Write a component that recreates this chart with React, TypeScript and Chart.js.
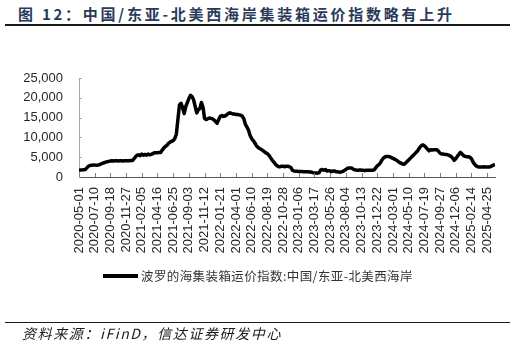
import React, { useEffect, useRef } from "react";
import { Chart, registerables } from "chart.js";

Chart.register(...registerables);

const TITLE = "图 12：中国/东亚-北美西海岸集装箱运价指数略有上升";
const SERIES_NAME = "波罗的海集装箱运价指数:中国/东亚-北美西海岸";
const SOURCE = "资料来源：iFinD，信达证券研发中心";

// x tick labels, one every 10 weekly observations
const tickLabels = [
  "2020-05-01", "2020-07-10", "2020-09-18", "2020-11-27", "2021-02-05", "2021-04-16",
  "2021-06-25", "2021-09-03", "2021-11-12", "2022-01-21", "2022-04-01", "2022-06-10",
  "2022-08-19", "2022-10-28", "2023-01-06", "2023-03-17", "2023-05-26", "2023-08-04",
  "2023-10-13", "2023-12-22", "2024-03-01", "2024-05-10", "2024-07-19", "2024-09-27",
  "2024-12-06", "2025-02-14", "2025-04-25",
];
const tickStep = 10;

const yTicks = [0, 5000, 10000, 15000, 20000, 25000];

// weekly index values
const values = [
  1800, 1750, 1800, 1850, 1900,
  2300, 2700, 2900,
  2950, 3000, 3000, 2950, 3000, 3100,
  3300, 3450, 3600, 3750, 3850, 3950,
  4050, 4100, 4050, 4100, 4100, 4050, 4100, 4100, 4050, 4100, 4100, 4100, 4100, 4150, 4150,
  4600, 5100, 5500, 5600,
  5400, 5800, 5500, 5700, 5500, 5800, 5600, 5700, 5900,
  6100, 6100, 6150, 6200, 6200,
  6800, 7300, 7700, 8000, 8500,
  8800, 9000, 9200, 9700,
  10800, 14500, 18200,
  18600, 17500, 16000,
  17800, 18800, 19800, 20600,
  20300, 19500, 17800,
  16200, 17000, 17300,
  18800, 17600, 14800,
  14500, 14700, 14900, 14800, 14700, 14400, 14000,
  13600,
  14500, 15300, 15500, 15300,
  15400, 15700, 16000, 16200,
  16100, 15900, 15900, 15800, 15800, 15700, 15600, 15400,
  14700, 13300, 12600, 11800,
  10500, 9700, 9200, 8600, 7900,
  7500, 7200, 7000, 6700, 6400, 6100,
  5900, 5500, 4900, 4300, 3800, 3300,
  2900, 2600,
  2600, 2700, 2700, 2600, 2700, 2700, 2600, 2400,
  1700,
  1500, 1450, 1450, 1400, 1400, 1400, 1350, 1350, 1300, 1300, 1250, 1250,
  1100, 1000, 1000, 950, 1100,
  1800, 1900, 1700, 1900,
  1500, 1600, 1500, 1400, 1500, 1500,
  1300, 1300, 1200, 1300, 1400, 1600, 1900,
  2200, 2300, 2300, 2200,
  1900, 1800, 1700, 1700, 1800, 1700, 1700, 1600, 1700, 1700, 1700, 1700, 1700, 1800,
  2300, 2800, 3100, 3600,
  4300, 4800, 5100, 5200, 5200, 5100,
  4900, 4700, 4500, 4300, 4000, 3700, 3500, 3300,
  3200, 3500, 3900, 4300,
  4700, 5100, 5500, 5900, 6300, 6800, 7400, 7900,
  8100, 7900, 7500, 7000,
  6600, 6900, 6800, 6900, 6900, 6900,
  6500, 6000, 5800, 5800, 5700, 5700, 5600, 5400,
  5200, 4800, 4200, 4600,
  5200, 5700, 6200, 5800,
  5400, 5200, 5100, 5100, 5000, 4600,
  3800, 3200, 2800, 2600, 2500,
  2500, 2500, 2600, 2500, 2500, 2500, 2600,
  2800, 3000, 3200,
];

const innerTicks = {
  id: "innerTicks",
  afterDraw(chart: any) {
    const { ctx, chartArea, scales } = chart;
    ctx.save();
    ctx.lineWidth = 1;
    ctx.strokeStyle = "#7f7f7f";
    ctx.beginPath();
    scales.x.ticks.forEach((t: any) => {
      const px = Math.round(scales.x.getPixelForValue(t.value)) + 0.5;
      ctx.moveTo(px, chartArea.bottom);
      ctx.lineTo(px, chartArea.bottom - 4);
    });
    ctx.stroke();
    ctx.strokeStyle = "#a6a6a6";
    ctx.beginPath();
    scales.y.ticks.forEach((t: any) => {
      if (t.value === 0) return;
      const py = Math.round(scales.y.getPixelForValue(t.value)) + 0.5;
      ctx.moveTo(chartArea.left, py);
      ctx.lineTo(chartArea.left + 3, py);
    });
    ctx.stroke();
    ctx.restore();
  },
};

export default function App() {
  const ref = useRef<HTMLCanvasElement | null>(null);

  useEffect(() => {
    if (!ref.current) return;
    const chart = new Chart(ref.current, {
      type: "line",
      data: {
        datasets: [
          {
            label: SERIES_NAME,
            data: values.map((v, i) => ({ x: i, y: v })),
            borderColor: "#000000",
            backgroundColor: "#000000",
            borderWidth: 3.5,
            pointRadius: 0,
            tension: 0,
            borderJoinStyle: "round",
          },
        ],
      },
      options: {
        animation: false,
        responsive: false,
        devicePixelRatio: 1,
        layout: { padding: { left: 0, right: 21, top: 78, bottom: 86 } },
        plugins: { legend: { display: false }, tooltip: { enabled: false } },
        scales: {
          x: {
            type: "linear",
            min: 0,
            max: values.length - 1,
            afterBuildTicks: (axis: any) => {
              axis.ticks = tickLabels.map((_, k) => ({ value: k * tickStep }));
            },
            afterFit: (axis: any) => {
              axis.height = 85;
            },
            grid: { display: false, drawTicks: false },
            border: { display: true, color: "#595959", width: 1 },
            ticks: {
              autoSkip: false,
              minRotation: 90,
              maxRotation: 90,
              padding: 10,
              color: "#262626",
              font: { family: "'Liberation Sans', Arial, sans-serif", size: 13 },
              callback: (v: any) => tickLabels[Math.round(Number(v) / tickStep)] ?? "",
            },
          },
          y: {
            min: 0,
            max: 25000,
            afterBuildTicks: (axis: any) => {
              axis.ticks = yTicks.map((v) => ({ value: v }));
            },
            afterFit: (axis: any) => {
              axis.width = 79;
            },
            grid: { display: false, drawTicks: false },
            border: { display: true, color: "#a6a6a6", width: 1 },
            ticks: {
              padding: 16,
              color: "#262626",
              font: { family: "'Liberation Sans', Arial, sans-serif", size: 13 },
              callback: (v: any) => Number(v).toLocaleString("en-US"),
            },
          },
        },
      },
      plugins: [innerTicks],
    });
    return () => chart.destroy();
  }, []);

  return (
    <div
      style={{
        position: "absolute",
        left: 0,
        top: 0,
        width: 516,
        height: 348,
        background: "#ffffff",
        overflow: "hidden",
        fontFamily: "'Noto Sans CJK SC', sans-serif",
      }}
    >
      <div
        style={{
          position: "absolute",
          left: 18,
          top: 3,
          fontSize: 15,
          fontWeight: 700,
          letterSpacing: 2.75,
          color: "#2a3b5a",
          whiteSpace: "nowrap",
          lineHeight: "22px",
        }}
      >
        {TITLE}
      </div>
      <div style={{ position: "absolute", left: 5, top: 24, width: 505, height: 2, background: "#1a1a1a" }} />
      <canvas ref={ref} width={516} height={348} style={{ position: "absolute", left: 0, top: 0 }} />
      <div style={{ position: "absolute", left: 103, top: 274, width: 35, height: 4, background: "#000" }} />
      <div
        style={{
          position: "absolute",
          left: 141,
          top: 267,
          fontSize: 12.5,
          color: "#333",
          whiteSpace: "nowrap",
          lineHeight: "18px",
          letterSpacing: 0.4,
        }}
      >
        {SERIES_NAME}
      </div>
      <div style={{ position: "absolute", left: 5, top: 322, width: 505, height: 1, background: "#1a1a1a" }} />
      <div
        style={{
          position: "absolute",
          left: 22,
          top: 323,
          fontSize: 14,
          fontStyle: "italic",
          color: "#1a1a1a",
          whiteSpace: "nowrap",
          lineHeight: "20px",
          letterSpacing: 1.6,
        }}
      >
        {SOURCE}
      </div>
    </div>
  );
}
